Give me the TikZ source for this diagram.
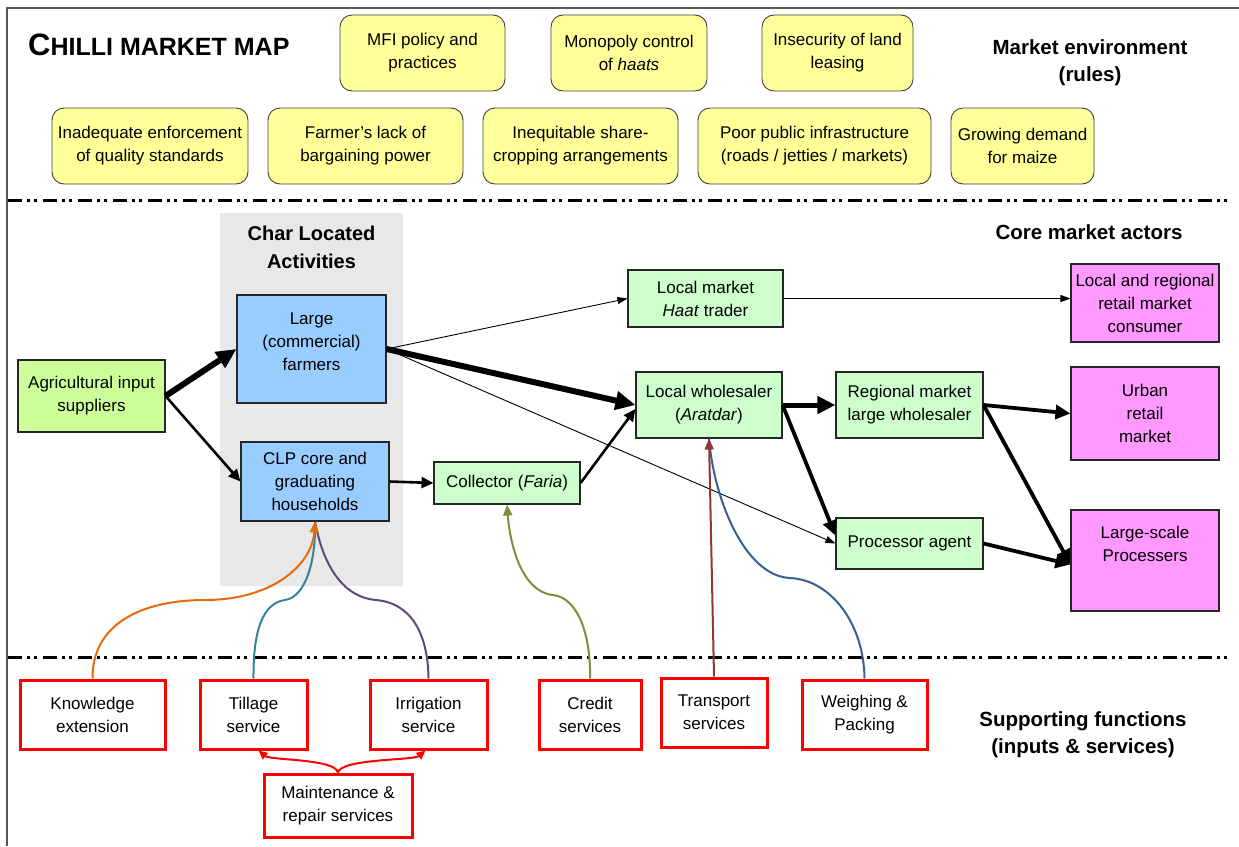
\documentclass[tikz,border=0pt]{standalone}
\usepackage{fontspec}
\setmainfont{Liberation Sans}
\usetikzlibrary{arrows.meta,calc}
\definecolor{ylw}{HTML}{FFFF99}
\definecolor{blu}{HTML}{99CCFF}
\definecolor{agr}{HTML}{CCFF99}
\definecolor{lgr}{HTML}{CCFFCC}
\definecolor{mag}{HTML}{FF99FF}
\definecolor{gry}{HTML}{E8E8E8}
\definecolor{corange}{HTML}{E46C0A}
\definecolor{cteal}{HTML}{31849B}
\definecolor{cpurple}{HTML}{5F497A}
\definecolor{cgreen}{HTML}{76923C}
\definecolor{cdred}{HTML}{943634}
\definecolor{cblue}{HTML}{376092}
\begin{document}
\begin{tikzpicture}[x=1pt,y=-1pt,
  every node/.style={font=\fontsize{17}{23}\selectfont, align=center, inner sep=1pt},
  rulebox/.style={draw=black!75, line width=0.9pt, fill=ylw, rounded corners=12pt},
  actbox/.style={draw=black!85, line width=1.1pt},
  supbox/.style={draw=red, line width=3pt, fill=white},
  seclbl/.style={font=\bfseries\fontsize{20.5}{27}\selectfont},
  sep/.style={line width=3pt, dash pattern=on 14pt off 5pt on 3pt off 4pt on 3pt off 6pt},
  athin/.style={line width=0.9pt, -{Triangle[length=10pt,width=7pt]}},
  amed/.style={line width=2.6pt, -{Triangle[length=12pt,width=11pt]}},
  athick/.style={line width=3.8pt, -{Triangle[length=15pt,width=14pt]}},
  avthick/.style={line width=6pt, -{Triangle[length=20pt,width=18pt]}},
  curve/.style={line width=2pt},
  redarr/.style={draw=red, line width=2pt, -{Triangle[length=9pt,width=8pt]}}
]
\useasboundingbox (0,0) rectangle (1239,846);
% frame
\draw[black!65, line width=1.5pt] (7,846) -- (7,8) -- (1239,8);
% separators
\draw[sep] (8,200) -- (1232,200);
\draw[sep] (8,657) -- (1232,657);

% title and section labels
\node[anchor=west, font=\bfseries\fontsize{25}{30}\selectfont] (title) at (27,45) {{\fontsize{31}{30}\selectfont C}HILLI MARKET MAP};
\node[seclbl] (lenv) at (1090,63) {Market environment\\(rules)};
\node[seclbl] (lcore) at (1089,232) {Core market actors};
\node[seclbl] (lsup) at (1083,735) {Supporting functions\\(inputs \& services)};

% market environment boxes
\node[rulebox, minimum width=165pt, minimum height=76pt] (mfi) at (422.5,53) {MFI policy and\\practices};
\node[rulebox, minimum width=156pt, minimum height=76pt] (mono) at (629,53) {Monopoly control\\of \textit{haats}};
\node[rulebox, minimum width=151pt, minimum height=76pt] (insec) at (837.5,53) {Insecurity of land\\leasing};
\node[rulebox, minimum width=196pt, minimum height=76pt] (inad) at (150,146) {Inadequate enforcement\\of quality standards};
\node[rulebox, minimum width=195pt, minimum height=76pt] (lack) at (365.5,146) {Farmer’s lack of\\bargaining power};
\node[rulebox, minimum width=195pt, minimum height=76pt] (ineq) at (580.5,146) {Inequitable share-\\cropping arrangements};
\node[rulebox, minimum width=233pt, minimum height=76pt] (poor) at (814.5,146) {Poor public infrastructure\\(roads / jetties / markets)};
\node[rulebox, minimum width=143pt, minimum height=76pt] (grow) at (1022.5,146) {Growing demand\\for maize};

% char located activities background
\fill[gry] (220,213) rectangle (403,586);
\node[font=\bfseries\fontsize{20}{28}\selectfont] (charlbl) at (311.5,247) {Char Located\\Activities};

% core actors
\node[actbox, fill=agr, minimum width=147pt, minimum height=72pt] (agri) at (91.5,396) {Agricultural input\\suppliers};
\node[actbox, fill=blu, minimum width=149pt, minimum height=108pt] (large) at (311.5,349) {Large\\(commercial)\\farmers\\[-9pt]};
\node[actbox, fill=blu, minimum width=148pt, minimum height=79pt] (clp) at (315,481.5) {CLP core and\\graduating\\households};
\node[actbox, fill=lgr, minimum width=146pt, minimum height=42pt] (coll) at (507,483) {Collector (\textit{Faria})};
\node[actbox, fill=lgr, minimum width=155pt, minimum height=57pt] (haat) at (705.5,298.5) {Local market\\\textit{Haat} trader};
\node[actbox, fill=lgr, minimum width=146pt, minimum height=66pt] (wh) at (709,405) {Local wholesaler\\(\textit{Aratdar})};
\node[actbox, fill=lgr, minimum width=147pt, minimum height=66pt] (reg) at (909.5,405) {Regional market\\large wholesaler};
\node[actbox, fill=lgr, minimum width=147pt, minimum height=51pt] (proc) at (909.5,543.5) {Processor agent};
\node[actbox, fill=mag, minimum width=148pt, minimum height=78pt] (retail) at (1145,303) {Local and regional\\retail market\\consumer};
\node[actbox, fill=mag, minimum width=148pt, minimum height=93pt] (urban) at (1145,413.5) {Urban\\retail\\market};
\node[actbox, fill=mag, minimum width=148pt, minimum height=101pt] (lsp) at (1145,560.5) {Large-scale\\Processers\\[11pt]};

% supporting functions
\node[supbox, minimum width=145pt, minimum height=69pt] (know) at (92.5,714.5) {Knowledge\\extension};
\node[supbox, minimum width=107pt, minimum height=69pt] (till) at (253.5,714.5) {Tillage\\service};
\node[supbox, minimum width=117pt, minimum height=69pt] (irr) at (428.5,714.5) {Irrigation\\service};
\node[supbox, minimum width=102pt, minimum height=69pt] (cred) at (590,714.5) {Credit\\services};
\node[supbox, minimum width=106pt, minimum height=69pt] (trans) at (714,712.5) {Transport\\services};
\node[supbox, minimum width=125pt, minimum height=69pt] (weigh) at (864.5,714.5) {Weighing \&\\Packing};
\node[supbox, minimum width=148pt, minimum height=63pt] (maint) at (338,805.5) {Maintenance \&\\repair services};

% market chain arrows
\draw[avthick] (agri.east) -- (large.west);
\draw[amed] (agri.east) -- (clp.west);
\draw[athin] (large.east) -- (haat.west);
\draw[athin] (large.east) -- (proc.west);
\draw[avthick] (large.east) -- (wh.west);
\draw[amed] (clp.east) -- (coll.west);
\draw[amed] (coll.east) -- ([yshift=-4pt]wh.west);
\draw[athin] (haat.east) -- (haat.east -| retail.west);
\draw[athick, line width=5pt, -{Triangle[length=18pt,width=17pt]}] (wh.east) -- (reg.west);
\draw[athick] (wh.east) -- ([yshift=8pt]proc.west);
\draw[athick] (reg.east) -- (urban.west);
\draw[athick] (reg.east) -- ([yshift=-4pt]lsp.west);
\draw[athick] (proc.east) -- ([yshift=-4pt]lsp.west);

% support connectors
\draw[curve, cteal] (till.north) .. controls (253,630) and (263,603) .. (285,600) .. controls (306,597) and (316,560) .. (clp.south);
\draw[curve, cpurple] (irr.north) .. controls (428,635) and (412,603) .. (376,600) .. controls (340,597) and (322,560) .. (clp.south);
\draw[curve, corange, -{Triangle[length=11pt,width=9pt]}] (know.north) .. controls (92,625) and (140,600) .. (205,600) .. controls (272,600) and (312,565) .. (clp.south);
\draw[curve, cgreen, -{Triangle[length=11pt,width=9pt]}] (cred.north) .. controls (591,640) and (580,598) .. (553,595) .. controls (522,592) and (510,545) .. (coll.south);
\draw[curve, cblue] (weigh.north) .. controls (864,625) and (832,580) .. (790,578) .. controls (745,576) and (714,500) .. (wh.south);
\draw[curve, cdred, -{Triangle[length=11pt,width=9pt]}] (trans.north) -- (wh.south);

% maintenance arrows
\draw[redarr] (maint.north) .. controls +(-3,-14) and +(12,10) .. ([xshift=5pt]till.south);
\draw[redarr] (maint.north) .. controls +(3,-14) and +(-12,10) .. ([xshift=-3pt]irr.south);
\end{tikzpicture}
\end{document}
